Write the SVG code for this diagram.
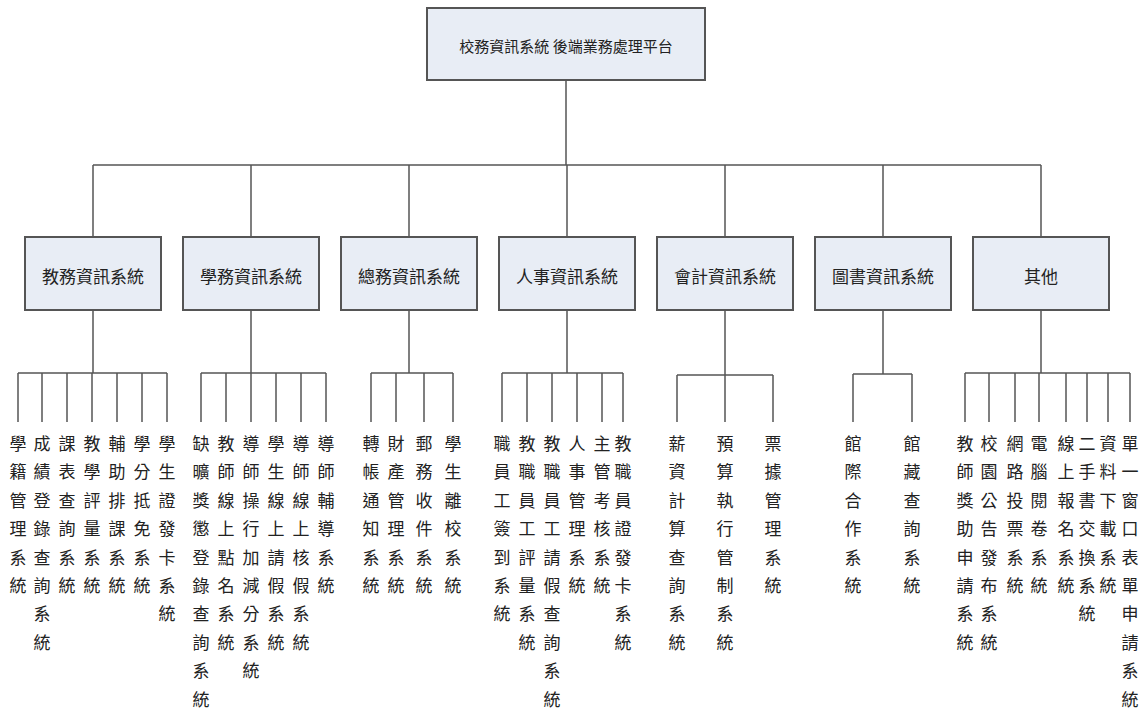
<svg xmlns="http://www.w3.org/2000/svg" width="1142" height="709" viewBox="0 0 1142 709">
<style>
.box{fill:#e8edf5;stroke:#555;stroke-width:2}
.bt{font-family:"Noto Sans CJK TC","Noto Sans CJK SC",sans-serif;font-size:17px;fill:#222;text-anchor:middle;dominant-baseline:central}
.top{font-size:15px}
.lf{font-family:"Noto Sans CJK TC","Noto Sans CJK SC",sans-serif;font-size:17px;fill:#222;text-anchor:middle;dominant-baseline:central}
.cn{stroke:#555;stroke-width:1.5;fill:none}
</style>
<rect width="1142" height="709" fill="#fff"/>
<g id="connectors">
<path class="cn" d="M566 80V165M93 165H1041M93 165V237M251 165V237M409 165V237M567 165V237M725 165V237M883 165V237M1041 165V237"/>
<path class="cn" d="M93 310V373M18 373H167M18 373V422M42 373V422M67 373V422M92 373V422M117 373V422M142 373V422M167 373V422"/>
<path class="cn" d="M251 310V373M201 373H326M201 373V422M226 373V422M251 373V422M276 373V422M301 373V422M326 373V422"/>
<path class="cn" d="M409 310V373M371 373H453M371 373V422M396 373V422M424 373V422M453 373V422"/>
<path class="cn" d="M567 310V373M502 373H623M502 373V422M527 373V422M552 373V422M577 373V422M602 373V422M623 373V422"/>
<path class="cn" d="M725 310V375M677 375H773M677 375V422M725 375V422M773 375V422"/>
<path class="cn" d="M883 310V374M853 374H912M853 374V422M912 374V422"/>
<path class="cn" d="M1041 310V373M965 373H1130M965 373V422M989 373V422M1015 373V422M1039 373V422M1066 373V422M1087 373V422M1108 373V422M1130 373V422"/>
</g>
<g id="root"><rect class="box" x="427" y="8" width="278" height="72"/><text class="bt top" x="566" y="45">校務資訊系統 後端業務處理平台</text></g>
<g id="n1"><rect class="box" x="25" y="237" width="136" height="73"/><text class="bt" x="93" y="275">教務資訊系統</text></g>
<g id="n2"><rect class="box" x="183" y="237" width="136" height="73"/><text class="bt" x="251" y="275">學務資訊系統</text></g>
<g id="n3"><rect class="box" x="341" y="237" width="136" height="73"/><text class="bt" x="409" y="275">總務資訊系統</text></g>
<g id="n4"><rect class="box" x="499" y="237" width="136" height="73"/><text class="bt" x="567" y="275">人事資訊系統</text></g>
<g id="n5"><rect class="box" x="657" y="237" width="136" height="73"/><text class="bt" x="725" y="275">會計資訊系統</text></g>
<g id="n6"><rect class="box" x="815" y="237" width="136" height="73"/><text class="bt" x="883" y="275">圖書資訊系統</text></g>
<g id="n7"><rect class="box" x="973" y="237" width="136" height="73"/><text class="bt" x="1041" y="275">其他</text></g>
<g id="g1-leaves">
<text class="lf" x="18 18 18 18 18 18" y="442 470 499 527 556 584">學籍管理系統</text>
<text class="lf" x="42 42 42 42 42 42 42 42" y="442 470 499 527 556 584 612 641">成績登錄查詢系統</text>
<text class="lf" x="67 67 67 67 67 67" y="442 470 499 527 556 584">課表查詢系統</text>
<text class="lf" x="92 92 92 92 92 92" y="442 470 499 527 556 584">教學評量系統</text>
<text class="lf" x="117 117 117 117 117 117" y="442 470 499 527 556 584">輔助排課系統</text>
<text class="lf" x="142 142 142 142 142 142" y="442 470 499 527 556 584">學分抵免系統</text>
<text class="lf" x="167 167 167 167 167 167 167" y="442 470 499 527 556 584 612">學生證發卡系統</text>
</g>
<g id="g2-leaves">
<text class="lf" x="201 201 201 201 201 201 201 201 201 201" y="442 470 499 527 556 584 612 641 669 698">缺曠獎懲登錄查詢系統</text>
<text class="lf" x="226 226 226 226 226 226 226 226" y="442 470 499 527 556 584 612 641">教師線上點名系統</text>
<text class="lf" x="251 251 251 251 251 251 251 251 251" y="442 470 499 527 556 584 612 641 669">導師操行加減分系統</text>
<text class="lf" x="276 276 276 276 276 276 276 276" y="442 470 499 527 556 584 612 641">學生線上請假系統</text>
<text class="lf" x="301 301 301 301 301 301 301 301" y="442 470 499 527 556 584 612 641">導師線上核假系統</text>
<text class="lf" x="326 326 326 326 326 326" y="442 470 499 527 556 584">導師輔導系統</text>
</g>
<g id="g3-leaves">
<text class="lf" x="371 371 371 371 371 371" y="442 470 499 527 556 584">轉帳通知系統</text>
<text class="lf" x="396 396 396 396 396 396" y="442 470 499 527 556 584">財產管理系統</text>
<text class="lf" x="424 424 424 424 424 424" y="442 470 499 527 556 584">郵務收件系統</text>
<text class="lf" x="453 453 453 453 453 453" y="442 470 499 527 556 584">學生離校系統</text>
</g>
<g id="g4-leaves">
<text class="lf" x="502 502 502 502 502 502 502" y="442 470 499 527 556 584 612">職員工簽到系統</text>
<text class="lf" x="527 527 527 527 527 527 527 527" y="442 470 499 527 556 584 612 641">教職員工評量系統</text>
<text class="lf" x="552 552 552 552 552 552 552 552 552 552" y="442 470 499 527 556 584 612 641 669 698">教職員工請假查詢系統</text>
<text class="lf" x="577 577 577 577 577 577" y="442 470 499 527 556 584">人事管理系統</text>
<text class="lf" x="602 602 602 602 602 602" y="442 470 499 527 556 584">主管考核系統</text>
<text class="lf" x="623 623 623 623 623 623 623 623" y="442 470 499 527 556 584 612 641">教職員證發卡系統</text>
</g>
<g id="g5-leaves">
<text class="lf" x="677 677 677 677 677 677 677 677" y="442 470 499 527 556 584 612 641">薪資計算查詢系統</text>
<text class="lf" x="725 725 725 725 725 725 725 725" y="442 470 499 527 556 584 612 641">預算執行管制系統</text>
<text class="lf" x="773 773 773 773 773 773" y="442 470 499 527 556 584">票據管理系統</text>
</g>
<g id="g6-leaves">
<text class="lf" x="853 853 853 853 853 853" y="442 470 499 527 556 584">館際合作系統</text>
<text class="lf" x="912 912 912 912 912 912" y="442 470 499 527 556 584">館藏查詢系統</text>
</g>
<g id="g7-leaves">
<text class="lf" x="965 965 965 965 965 965 965 965" y="442 470 499 527 556 584 612 641">教師獎助申請系統</text>
<text class="lf" x="989 989 989 989 989 989 989 989" y="442 470 499 527 556 584 612 641">校園公告發布系統</text>
<text class="lf" x="1015 1015 1015 1015 1015 1015" y="442 470 499 527 556 584">網路投票系統</text>
<text class="lf" x="1039 1039 1039 1039 1039 1039" y="442 470 499 527 556 584">電腦閱卷系統</text>
<text class="lf" x="1066 1066 1066 1066 1066 1066" y="442 470 499 527 556 584">線上報名系統</text>
<text class="lf" x="1087 1087 1087 1087 1087 1087 1087" y="442 470 499 527 556 584 612">二手書交換系統</text>
<text class="lf" x="1108 1108 1108 1108 1108 1108" y="442 470 499 527 556 584">資料下載系統</text>
<text class="lf" x="1130 1130 1130 1130 1130 1130 1130 1130 1130 1130" y="442 470 499 527 556 584 612 641 669 698">單一窗口表單申請系統</text>
</g>
</svg>
